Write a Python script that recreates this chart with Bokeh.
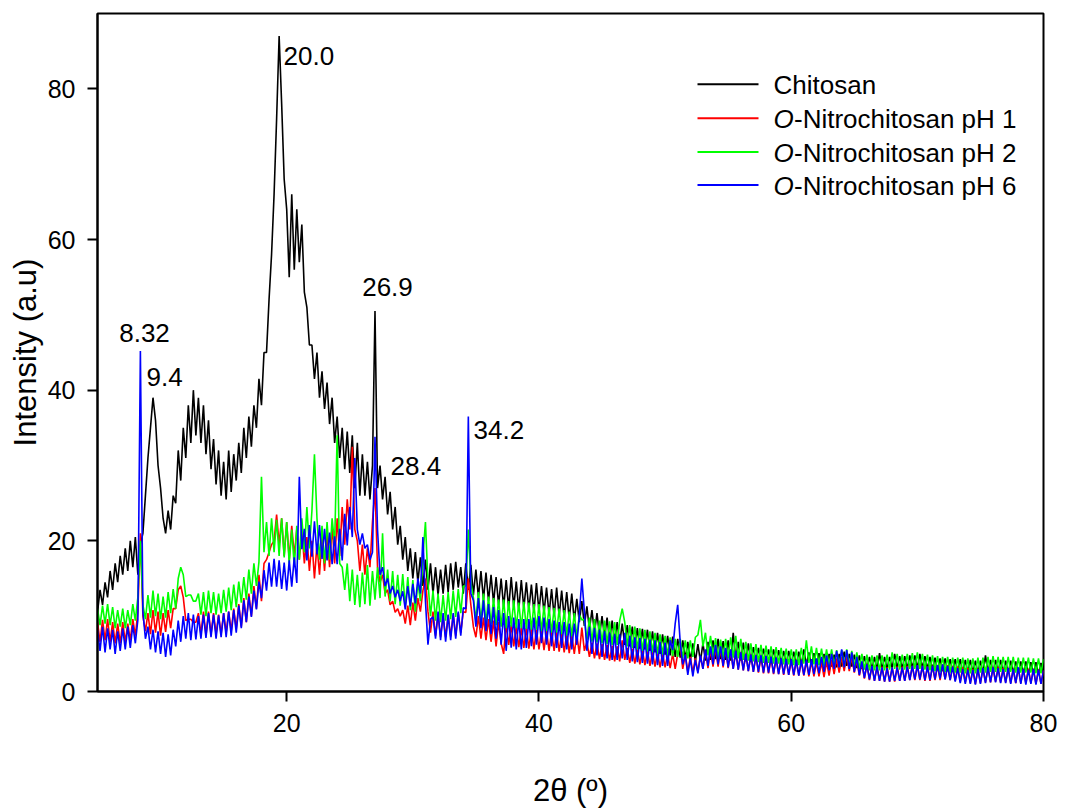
from bokeh.plotting import figure
from bokeh.models import Label, Range1d
from bokeh.embed import file_html
from bokeh.resources import INLINE

# ---------------- data ----------------
# 2-theta sampling grid, 5.0 .. 80.0 deg every 0.2 deg (376 points)
two_theta = [round(5 + 0.2 * i, 1) for i in range(376)]

chitosan = [
    10.5, 13.5, 11.5, 14.5, 12.5, 16, 13.5, 17, 14.5, 18,          # 5.0
    15.5, 19, 16, 20, 16.5, 20.5, 15.5, 19.5, 21, 26,             # 7.0
    31, 35, 39, 36, 30, 27, 23, 21, 24, 21.5,                     # 9.0
    26, 25, 32, 28, 35, 31, 38, 33, 40, 34,                       # 11.0
    39, 33, 38, 31.5, 36, 29.5, 33.5, 27.5, 32, 26,               # 13.0
    30.5, 25.5, 32, 26.5, 31.5, 28, 33, 29, 35, 31,               # 15.0
    36.5, 32.5, 38, 35, 41.5, 38, 45, 45, 52, 58,                 # 17.0
    66, 76, 87, 78, 68, 64, 55, 66, 56, 64,                       # 19.0
    57, 62, 53, 51, 46, 46, 41.5, 45, 39, 42.5,                   # 21.0
    37.5, 41, 35.5, 39, 33, 36.5, 31, 35, 29.5, 34.5,             # 23.0
    29, 34, 27, 33, 26, 31.5, 26, 30.5, 25.5, 30,                 # 25.0
    50.5, 27, 30, 25.5, 28.5, 23.5, 26.5, 21.5, 24.5, 19.5,       # 27.0
    22, 17.5, 20.5, 16, 19, 15, 18.5, 14.5, 17.8, 14,             # 29.0
    17.5, 13.5, 17, 13, 16.5, 12.8, 16.2, 13, 16.8, 13.2,         # 31.0
    17, 13.5, 17.2, 13.8, 16.5, 13, 17, 13.5, 16.8, 12.8,         # 33.0
    16.2, 12.5, 16, 12.2, 15.8, 12, 15.5, 11.8, 15.2, 11.5,       # 35.0
    15, 11.2, 14.8, 11, 15.2, 11.2, 14.6, 10.8, 14.8, 11,         # 37.0
    14.5, 10.8, 14.2, 10.5, 14.4, 10.6, 14, 10.4, 13.8, 10.2,     # 39.0
    13.6, 10, 13.8, 10, 13.4, 9.8, 13.2, 9.6, 13, 9.4,            # 41.0
    12.3, 9.2, 12, 8.7, 11.3, 8.2, 10.8, 7.8, 10.4, 7.4,          # 43.0
    10, 7.2, 9.8, 6.8, 9.4, 6.6, 9.2, 6.4, 9, 6.2,                # 45.0
    8.8, 6, 8.6, 5.8, 8.4, 5.7, 8.3, 5.6, 8.2, 5.4,               # 47.0
    8, 5.2, 7.8, 5, 7.6, 4.9, 7.4, 4.8, 7.3, 4.6,                 # 49.0
    7, 4.5, 6.8, 4.3, 6.6, 4.1, 6.4, 4, 6.3, 4,                   # 51.0
    6.4, 4.1, 6.6, 4.2, 6.8, 4.3, 7, 4.3, 6.7, 4.2,               # 53.0
    6.8, 4.1, 7.8, 4.3, 6.6, 4.1, 6.5, 4, 6.4, 3.9,               # 55.0
    5.9, 4, 5.8, 3.9, 5.7, 3.9, 5.6, 3.8, 5.6, 3.7,               # 57.0
    5.5, 3.7, 5.4, 3.6, 5.4, 3.6, 5.3, 3.5, 5.3, 3.5,             # 59.0
    5.6, 3.5, 5.2, 3.4, 5.1, 3.4, 5.1, 3.3, 5, 3.3,               # 61.0
    5, 3.3, 4.9, 3.2, 5, 3.3, 5.3, 3.4, 5, 3.3,                   # 63.0
    4.9, 3.1, 4.8, 3, 4.7, 3, 4.6, 2.9, 4.6, 2.9,                 # 65.0
    5.1, 2.9, 4.6, 3, 4.6, 3.1, 5, 3.1, 4.7, 3,                   # 67.0
    4.7, 3, 4.8, 3.1, 4.8, 3.1, 5, 3.1, 4.7, 3,                   # 69.0
    4.6, 2.9, 4.5, 2.8, 4.4, 2.7, 4.4, 2.7, 4.3, 2.6,             # 71.0
    4.3, 2.6, 4.3, 2.5, 4.2, 2.5, 4.2, 2.5, 4.1, 2.4,             # 73.0
    4.1, 2.4, 4.8, 2.5, 4.2, 2.5, 4.2, 2.6, 4.2, 2.5,             # 75.0
    4.1, 2.4, 4.1, 2.4, 4, 2.4, 4, 2.3, 4, 2.3,                   # 77.0
    3.9, 2.3, 3.9, 2.3, 3.8, 2.3,                                 # 79.0
]

nitro_ph1 = [
    9.2, 6.6, 9.5, 6.8, 9.6, 6.6, 9.2, 6.4, 9, 6.4,               # 5.0
    9.2, 6.6, 9, 6.8, 9.6, 7.4, 10.6, 21, 10, 8,                  # 7.0
    10.4, 7.6, 10.8, 7.8, 10.6, 7.4, 10.4, 7.9, 10.8, 8.4,        # 9.0
    11, 11, 13.5, 14, 12.5, 9.4, 9.6, 9.6, 9.2, 9.2,              # 11.0
    10.4, 7.6, 10.6, 7.4, 10.6, 7.6, 10.4, 7.6, 10.2, 7.6,        # 13.0
    10.4, 7.8, 10.6, 8, 11, 8.3, 11.6, 8.6, 12.4, 9.2,            # 15.0
    13, 10, 14, 11, 15.5, 12, 17, 17.5, 18.5, 19.5,               # 17.0
    20, 23.5, 19.5, 23, 18, 22.5, 17.5, 22, 18, 21.5,             # 19.0
    17.5, 21.5, 17, 20.5, 16, 20, 15, 19.5, 15.5, 20.5,           # 21.0
    16, 21, 16.5, 22, 17, 23, 18, 24.5, 19.5, 25.5,               # 23.0
    21.5, 32.5, 21.5, 20, 16, 19.5, 15.5, 19, 16.5, 22.5,         # 25.0
    27, 16.5, 14.5, 15.5, 13, 13.5, 11.5, 12, 10.5, 11,           # 27.0
    10, 10.8, 9, 11.4, 8.8, 11.8, 9.4, 12.4, 10.6, 13.4,          # 29.0
    15, 10.6, 7.8, 10.6, 7.4, 10.2, 7.2, 10, 7.2, 10.1,           # 31.0
    7.3, 10.2, 7.4, 10.4, 7.8, 10.6, 10.5, 15, 11.5, 8.6,         # 33.0
    7.2, 10, 7, 9.8, 6.8, 9.6, 6.6, 9.4, 6, 9.2,                  # 35.0
    6.4, 5, 9, 6.2, 8.8, 6, 8.6, 5.9, 8.4, 5.8,                   # 37.0
    8.4, 5.7, 8.3, 5.6, 8.2, 5.6, 8.2, 5.5, 8.1, 5.4,             # 39.0
    8, 5.4, 7.9, 5.3, 7.8, 5.2, 7.7, 5.1, 7.6, 5,                 # 41.0
    7.6, 5, 8.5, 5.4, 6.6, 4.6, 6.5, 4.4, 6.4, 4.3,               # 43.0
    6.3, 4.2, 6.2, 4.1, 6.1, 4, 6, 4, 6.8, 4.2,                   # 45.0
    5.8, 3.8, 5.7, 3.7, 5.6, 3.6, 5.5, 3.5, 5.4, 3.4,             # 47.0
    5.3, 3.3, 5.2, 3.2, 5.1, 3.2, 5, 3.1, 5, 3,                   # 49.0
    5, 6, 3, 4.9, 2.6, 4.6, 2.5, 4.4, 2.6, 4.7,                   # 51.0
    3, 5.4, 3.1, 5.6, 3.3, 5.8, 3.3, 5.7, 3.2, 5.6,               # 53.0
    3.1, 5.4, 3, 5.3, 2.9, 5.2, 2.8, 5, 2.7, 4.9,                 # 55.0
    2.6, 4.7, 2.5, 4.6, 2.4, 4.5, 2.4, 4.4, 2.3, 4.3,             # 57.0
    2.3, 4.3, 2.2, 4.2, 2.2, 4.1, 2.1, 4.1, 2.1, 4,               # 59.0
    2.1, 4, 2, 4, 2, 3.9, 2, 3.9, 1.9, 4,                         # 61.0
    2.1, 4.2, 2.3, 4.4, 2.5, 4.6, 2.7, 4.8, 2.7, 4.6,             # 63.0
    2.5, 4.2, 2.1, 3.8, 1.7, 3.6, 1.5, 3.4, 1.4, 3.3,             # 65.0
    1.4, 3.3, 1.3, 3.2, 1.3, 3.2, 1.3, 3.3, 1.4, 3.3,             # 67.0
    1.4, 3.4, 1.5, 3.4, 1.5, 3.5, 1.5, 3.4, 1.4, 3.3,             # 69.0
    1.4, 3.4, 1.5, 3.5, 1.5, 3.6, 1.6, 3.5, 1.5, 3.4,             # 71.0
    1.4, 3.3, 1.3, 3.2, 1.2, 3.1, 1.1, 3, 1, 3,                   # 73.0
    1.1, 3.1, 1.2, 3.2, 1.2, 3.2, 1.3, 3.2, 1.2, 3.1,             # 75.0
    1.2, 3.1, 1.1, 3, 1.1, 3.1, 1.1, 3, 1.1, 3,                   # 77.0
    1.1, 3, 1, 2.9, 1, 2.8,                                       # 79.0
]

nitro_ph2 = [
    11, 8.8, 11.4, 9, 11.6, 8.8, 11.2, 8.4, 10.8, 8.6,            # 5.0
    11, 8.4, 10.8, 8.8, 11.6, 9.4, 12.5, 20, 11.5, 9.6,           # 7.0
    12.8, 9.8, 13.4, 10, 13, 9.6, 12.6, 9.8, 13.2, 10.4,          # 9.0
    13.6, 11, 15, 16.5, 15.5, 12.6, 12.8, 12.8, 12, 12,           # 11.0
    13, 10.2, 13.2, 10, 13.4, 10.4, 13.2, 10.2, 13, 10.4,         # 13.0
    13.5, 10.6, 13.8, 10.8, 14.2, 11.2, 14.6, 11.8, 15.2, 12.2,   # 15.0
    16.2, 13, 17, 14, 17.2, 28.5, 18.5, 22.5, 18, 23,             # 17.0
    18.5, 22.8, 18, 23, 17.8, 22.5, 17, 21.5, 16.5, 22,           # 19.0
    17.5, 23, 18.5, 24.5, 19, 24, 31.5, 23, 17.5, 22,             # 21.0
    17, 22.5, 17.5, 23, 19.5, 34, 17, 16.5, 13.5, 17,             # 23.0
    12, 16.2, 11.5, 15.5, 11.2, 15.8, 11.6, 16.8, 11.4, 16,       # 25.0
    12.2, 16.5, 12.4, 21, 12.6, 16.2, 12, 16, 11.6, 15.5,         # 27.0
    11.4, 15.6, 11.2, 15.2, 10.8, 14.8, 10.6, 14.5, 12, 18,       # 29.0
    22.5, 14.5, 10, 13.4, 9.4, 13, 9.2, 12.8, 9.4, 13.2,          # 31.0
    9.6, 13.4, 9.9, 13.6, 10.4, 14, 14, 21.5, 14.5, 12.5,         # 33.0
    9.4, 13.2, 9.2, 13, 9, 12.6, 8.9, 12.4, 8.8, 12.2,            # 35.0
    8.6, 12.2, 8.4, 12, 8.6, 12.1, 8.4, 11.8, 8.4, 11.9,          # 37.0
    8.3, 11.8, 8.2, 11.6, 8.2, 11.6, 8, 11.4, 8, 11.2,            # 39.0
    7.8, 11.1, 7.8, 11, 7.6, 10.8, 7.4, 10.6, 7.3, 10.4,          # 41.0
    7.2, 10.2, 9.5, 9.6, 6.8, 9.8, 6.6, 9.6, 6.5, 9.4,            # 43.0
    6.4, 9.4, 6.3, 9.3, 6.2, 9.2, 6.2, 9.4, 11, 9.2,              # 45.0
    6, 8.8, 5.8, 8.6, 5.6, 8.4, 5.4, 8.2, 5.3, 8,                 # 47.0
    5.2, 7.8, 5, 7.6, 4.9, 7.4, 4.8, 7.2, 4.7, 7,                 # 49.0
    4.6, 7, 4.4, 6.8, 4.4, 6.8, 4.6, 7.2, 7.5, 9.5,               # 51.0
    6, 7.8, 4.8, 7.4, 4.6, 7.1, 4.4, 6.9, 4.4, 7,                 # 53.0
    4.4, 7.2, 4.5, 7.4, 4.4, 7, 4.2, 6.6, 4.1, 6.4,               # 55.0
    4, 6.3, 3.9, 6.2, 3.8, 6.1, 3.8, 6, 3.7, 5.9,                 # 57.0
    3.7, 5.8, 3.6, 5.7, 3.6, 5.6, 3.5, 5.6, 3.5, 5.8,             # 59.0
    3.7, 6.8, 3.8, 6, 3.6, 5.8, 3.5, 5.7, 3.4, 5.6,               # 61.0
    3.4, 5.6, 3.3, 5.5, 3.3, 5.5, 3.3, 5.6, 3.4, 5.4,             # 63.0
    3.2, 5.2, 3, 5, 2.9, 4.9, 2.8, 4.8, 2.8, 4.8,                 # 65.0
    2.8, 4.8, 2.8, 4.9, 2.9, 5.2, 3, 5, 2.9, 4.9,                 # 67.0
    2.9, 5, 3, 5.1, 3, 5.2, 3, 5, 2.9, 4.9,                       # 69.0
    2.8, 4.8, 2.7, 4.7, 2.6, 4.6, 2.6, 4.6, 2.5, 4.5,             # 71.0
    2.5, 4.5, 2.5, 4.5, 2.4, 4.4, 2.4, 4.4, 2.4, 4.5,             # 73.0
    2.5, 4.5, 2.5, 4.6, 2.6, 4.7, 2.6, 4.6, 2.6, 4.6,             # 75.0
    2.6, 4.6, 2.6, 4.6, 2.5, 4.5, 2.5, 4.5, 2.5, 4.5,             # 77.0
    2.5, 4.4, 2.4, 4.4, 2.4, 4.3,                                 # 79.0
]

nitro_ph6 = [
    8.2, 5.4, 8.6, 5.2, 8.4, 5.6, 8.2, 5, 8, 5.4,                 # 5.0
    8.4, 5.6, 8.6, 5.8, 8.8, 6.4, 9.5, 45.2, 10.5, 7,             # 7.0
    8.6, 5.6, 8.2, 5.2, 8, 5, 7.8, 4.6, 7.6, 4.8,                 # 9.0
    8.2, 6, 9.4, 6.6, 10, 7, 10.4, 6.8, 10.2, 6.9,                # 11.0
    10, 7, 10.2, 7.1, 10.4, 7.2, 10.2, 7, 10.1, 7.2,              # 13.0
    10.4, 7.2, 10.6, 7.4, 10.8, 7.8, 11.4, 8.4, 12.1, 9.2,        # 15.0
    12.6, 9.9, 13.4, 10.9, 14.6, 12.4, 16.1, 13.4, 17.1, 13.9,    # 17.0
    17.6, 13.9, 17.4, 13.6, 17.1, 13.4, 17.4, 13.9, 17.8, 14.4,   # 19.0
    28.5, 18.9, 21.6, 17.4, 22.1, 17.9, 22.6, 18.2, 22.1, 17.6,   # 21.0
    21.6, 17.4, 21.1, 16.9, 20.6, 16.9, 21.6, 17.4, 23.6, 19.4,   # 23.0
    24.5, 20.5, 31, 21.5, 19.5, 21, 19, 19.5, 17.5, 18.5,         # 25.0
    33.8, 21.5, 15.5, 16.5, 14, 15, 13, 14, 12.5, 13.5,           # 27.0
    12, 13.3, 10.9, 14, 11.3, 14.3, 11.7, 15, 13, 20.5,           # 29.0
    12, 6.2, 9.6, 9.9, 7, 10.6, 6.8, 10.4, 6.6, 10.2,             # 31.0
    6.8, 10.4, 7, 10.6, 7.4, 11.1, 11, 36.5, 13, 12.1,            # 33.0
    8.6, 12.4, 8.4, 12.1, 8, 11.6, 7.6, 11.2, 7, 10.8,            # 35.0
    6.2, 10.4, 5.4, 10, 5.8, 9.8, 5.6, 9.6, 5.6, 9.6,             # 37.0
    5.8, 9.6, 6, 9.8, 6.2, 10, 6.4, 9.8, 6.2, 9.6,                # 39.0
    6, 9.4, 5.8, 9.2, 5.8, 9.2, 5.6, 9, 5.6, 9,                   # 41.0
    6.2, 10.1, 15, 10.6, 5.4, 8.6, 5, 8.4, 4.8, 8.2,              # 43.0
    4.6, 8, 4.4, 7.8, 4.2, 7.6, 4.2, 7.6, 4.4, 7.8,               # 45.0
    4.2, 7.4, 4, 7.2, 3.9, 7.1, 3.8, 7, 3.7, 6.9,                 # 47.0
    3.6, 6.8, 3.5, 6.6, 3.4, 6.5, 3.4, 6.8, 5.5, 9,               # 49.0
    11.5, 6.5, 3.6, 4.9, 2.2, 4.4, 2, 4.2, 2.4, 4.8,              # 51.0
    3, 5.6, 3.4, 6, 3.6, 6.2, 3.6, 6, 3.4, 5.8,                   # 53.0
    3.2, 5.6, 3, 5.4, 2.9, 5.2, 2.8, 5, 2.7, 4.9,                 # 55.0
    2.6, 4.8, 2.6, 4.8, 2.5, 4.7, 2.5, 4.6, 2.4, 4.5,             # 57.0
    2.3, 4.4, 2.3, 4.3, 2.2, 4.3, 2.2, 4.2, 2.1, 4.2,             # 59.0
    2.2, 4.2, 2.2, 4.3, 2.3, 4.4, 2.4, 4.6, 2.6, 4.8,             # 61.0
    2.8, 5, 3, 5.4, 3.2, 5.6, 3.2, 5.5, 3, 5.2,                   # 63.0
    2.6, 4.6, 2.2, 4, 1.8, 3.6, 1.6, 3.4, 1.4, 3.3,               # 65.0
    1.4, 3.2, 1.3, 3.1, 1.3, 3.2, 1.4, 3.2, 1.4, 3.2,             # 67.0
    1.4, 3.3, 1.5, 3.4, 1.6, 3.5, 1.6, 3.4, 1.5, 3.3,             # 69.0
    1.5, 3.4, 1.6, 3.5, 1.7, 3.6, 1.6, 3.4, 1.5, 3.3,             # 71.0
    1.3, 3.1, 1.1, 3, 1, 2.9, 1, 2.9, 0.9, 3,                     # 73.0
    1, 3.1, 1.1, 3.2, 1.2, 3.2, 1.2, 3.1, 1.1, 3,                 # 75.0
    1.1, 3.1, 1, 3, 1.1, 3.2, 1, 3, 0.9, 2.9,                     # 77.0
    1, 3, 0.9, 2.9, 1, 2.8,                                       # 79.0
]

series_names = ["Chitosan", "O-Nitrochitosan pH 1", "O-Nitrochitosan pH 2", "O-Nitrochitosan pH 6"]
series_colors = ["#000000", "#ff0000", "#00ff00", "#0000ff"]
x_ticks = [20, 40, 60, 80]
y_ticks = [0, 20, 40, 60, 80]
peak_texts = ["20.0", "26.9", "8.32", "9.4", "28.4", "34.2"]

for s in (chitosan, nitro_ph1, nitro_ph2, nitro_ph6):
    assert len(s) == len(two_theta), len(s)

# ---------------- layout helpers (pixel -> data) ----------------
W, H = 1074, 810
FL, FR, FT, FB = 97, 1043, 13, 693
X0, X1, Y0, Y1 = 5, 80, 0, 90
def dx(px):
    return X0 + (px - FL) * (X1 - X0) / (FR - FL)
def dy(py):
    return Y0 + (FB - py) * (Y1 - Y0) / (FB - FT)

FONT = "Liberation Sans"

p = figure(width=W, height=H, x_range=Range1d(X0, X1), y_range=Range1d(Y0, Y1),
           output_backend="svg", toolbar_location=None,
           min_border_left=FL, min_border_right=W - FR,
           min_border_top=FT, min_border_bottom=H - FB)
p.background_fill_color = "white"
p.border_fill_color = "white"
p.outline_line_color = "black"
p.outline_line_width = 2
p.xgrid.visible = False
p.ygrid.visible = False

for ax in (p.xaxis[0], p.yaxis[0]):
    ax.axis_line_width = 2
    ax.major_tick_line_width = 2
    ax.major_tick_in = 0
    ax.major_tick_out = 10
    ax.minor_tick_line_color = None
    ax.major_label_text_font = FONT
    ax.major_label_text_font_size = "25px"
    ax.major_label_text_color = "black"
    ax.axis_label_text_font = FONT
    ax.axis_label_text_font_size = "31px"
    ax.axis_label_text_font_style = "normal"
    ax.axis_label_text_color = "black"
p.xaxis.ticker = x_ticks
p.yaxis.ticker = y_ticks
p.xaxis.major_label_standoff = 12
p.yaxis.major_label_standoff = 12
p.yaxis.axis_label = "Intensity (a.u)"
p.yaxis.axis_label_standoff = 2
p.xaxis.axis_label = "2θ (º)"
p.xaxis.axis_label_standoff = 38

# ---------------- curves ----------------
for ys, col in zip((chitosan, nitro_ph1, nitro_ph2, nitro_ph6), series_colors):
    p.line(two_theta, ys, line_color=col, line_width=1.6)

# ---------------- peak labels ----------------
peak_pos = [(283, 56, "left"), (387, 287, "center"), (144, 333, "center"),
            (146, 378, "left"), (390, 467, "left"), (473, 431, "left")]
for t, (px, py, al) in zip(peak_texts, peak_pos):
    p.add_layout(Label(x=dx(px), y=dy(py), text=t, text_font=FONT,
                       text_font_size="26px", text_align=al,
                       text_baseline="middle", text_color="black"))

# ---------------- legend (manual, italic O) ----------------
leg_rows = [84, 118, 152, 185]
for name, col, ry in zip(series_names, series_colors, leg_rows):
    p.segment(x0=[dx(697)], y0=[dy(ry)], x1=[dx(758)], y1=[dy(ry)],
              line_color=col, line_width=2)
    if name.startswith("O-"):
        p.add_layout(Label(x=dx(773), y=dy(ry + 1), text="O", text_font=FONT,
                           text_font_size="26px", text_font_style="italic",
                           text_baseline="middle", text_color="black"))
        p.add_layout(Label(x=dx(793.5), y=dy(ry + 1), text=name[1:], text_font=FONT,
                           text_font_size="26px", text_baseline="middle",
                           text_color="black"))
    else:
        p.add_layout(Label(x=dx(773), y=dy(ry + 1), text=name, text_font=FONT,
                           text_font_size="26px", text_baseline="middle",
                           text_color="black"))

open("out.html", "w").write(file_html(p, INLINE))
